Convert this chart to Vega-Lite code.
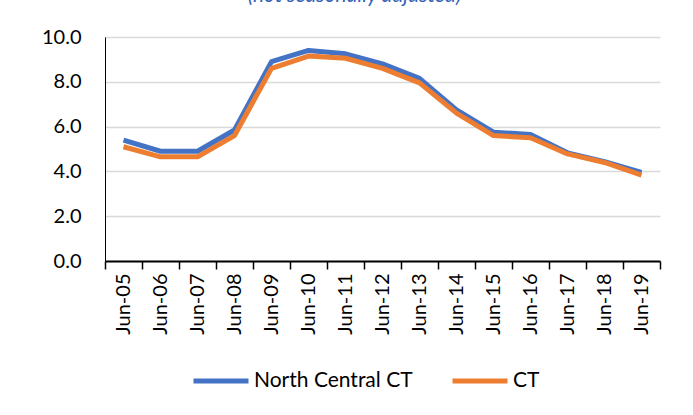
{
  "$schema": "https://vega.github.io/schema/vega-lite/v6.json",
  "width": 555,
  "height": 224,
  "autosize": "none",
  "padding": {"left": 105, "top": 37, "right": 33, "bottom": 154},
  "background": "white",
  "title": {
    "text": "(not seasonally adjusted)",
    "color": "#3462B8",
    "font": "Lato",
    "fontSize": 21,
    "fontStyle": "italic",
    "fontWeight": "normal",
    "baseline": "alphabetic",
    "frame": "group",
    "anchor": "middle",
    "offset": 4,
    "dx": -28
  },
  "data": {
    "values": [
      {"date": "Jun-05", "series": "North Central CT", "value": 5.4},
      {"date": "Jun-06", "series": "North Central CT", "value": 4.9},
      {"date": "Jun-07", "series": "North Central CT", "value": 4.9},
      {"date": "Jun-08", "series": "North Central CT", "value": 5.85},
      {"date": "Jun-09", "series": "North Central CT", "value": 8.9},
      {"date": "Jun-10", "series": "North Central CT", "value": 9.4},
      {"date": "Jun-11", "series": "North Central CT", "value": 9.25},
      {"date": "Jun-12", "series": "North Central CT", "value": 8.8},
      {"date": "Jun-13", "series": "North Central CT", "value": 8.15},
      {"date": "Jun-14", "series": "North Central CT", "value": 6.75},
      {"date": "Jun-15", "series": "North Central CT", "value": 5.75},
      {"date": "Jun-16", "series": "North Central CT", "value": 5.65},
      {"date": "Jun-17", "series": "North Central CT", "value": 4.83},
      {"date": "Jun-18", "series": "North Central CT", "value": 4.43},
      {"date": "Jun-19", "series": "North Central CT", "value": 3.95},
      {"date": "Jun-05", "series": "CT", "value": 5.1},
      {"date": "Jun-06", "series": "CT", "value": 4.65},
      {"date": "Jun-07", "series": "CT", "value": 4.65},
      {"date": "Jun-08", "series": "CT", "value": 5.6},
      {"date": "Jun-09", "series": "CT", "value": 8.6},
      {"date": "Jun-10", "series": "CT", "value": 9.15},
      {"date": "Jun-11", "series": "CT", "value": 9.05},
      {"date": "Jun-12", "series": "CT", "value": 8.6},
      {"date": "Jun-13", "series": "CT", "value": 7.95},
      {"date": "Jun-14", "series": "CT", "value": 6.6},
      {"date": "Jun-15", "series": "CT", "value": 5.6},
      {"date": "Jun-16", "series": "CT", "value": 5.5},
      {"date": "Jun-17", "series": "CT", "value": 4.78},
      {"date": "Jun-18", "series": "CT", "value": 4.4},
      {"date": "Jun-19", "series": "CT", "value": 3.83}
    ]
  },
  "mark": {"type": "line", "strokeWidth": 5, "strokeJoin": "round"},
  "encoding": {
    "x": {
      "field": "date",
      "type": "ordinal",
      "sort": null,
      "scale": {"type": "band", "paddingInner": 0, "paddingOuter": 0},
      "axis": {
        "title": null,
        "labelAngle": -90,
        "labelFont": "Lato",
        "labelFontSize": 20,
        "labelColor": "#000000",
        "labelPadding": 4,
        "domainColor": "#000000",
        "domainWidth": 2,
        "tickColor": "#000000",
        "tickWidth": 1.5,
        "tickSize": 8,
        "tickBand": "extent",
        "grid": false
      }
    },
    "y": {
      "field": "value",
      "type": "quantitative",
      "scale": {"domain": [0, 10]},
      "axis": {
        "title": null,
        "values": [0, 2, 4, 6, 8, 10],
        "format": ".1f",
        "ticks": false,
        "labelFont": "Lato",
        "labelFontSize": 20,
        "labelColor": "#000000",
        "labelPadding": 24,
        "domainColor": "#000000",
        "domainWidth": 1,
        "gridColor": "#D9D9D9",
        "gridWidth": 1.5
      }
    },
    "color": {
      "field": "series",
      "type": "nominal",
      "sort": ["North Central CT", "CT"],
      "scale": {"domain": ["North Central CT", "CT"], "range": ["#4472C4", "#ED7D31"]},
      "legend": {
        "title": null,
        "orient": "none",
        "direction": "horizontal",
        "legendX": 86,
        "legendY": 314,
        "symbolType": "stroke",
        "symbolSize": 3025,
        "symbolStrokeWidth": 5,
        "labelFont": "Lato",
        "labelFontSize": 21,
        "labelColor": "#000000",
        "labelOffset": 3,
        "columnPadding": 29
      }
    }
  },
  "config": {"view": {"stroke": null}}
}
